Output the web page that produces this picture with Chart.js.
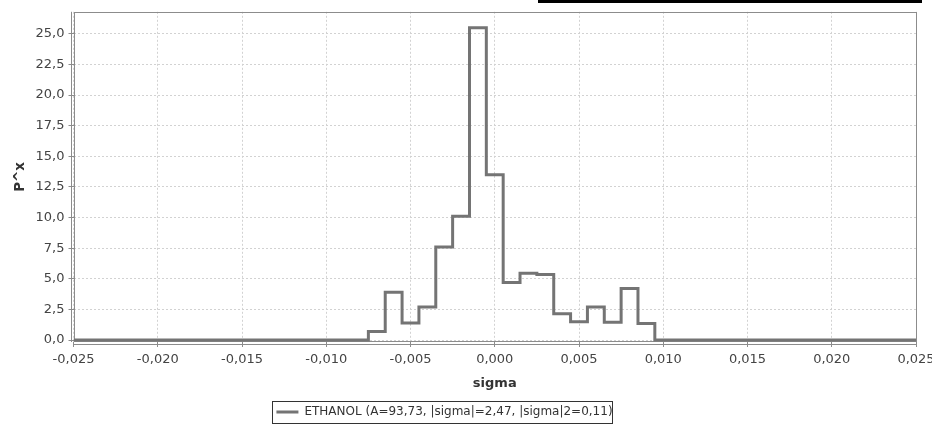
<!DOCTYPE html>
<html>
<head>
<meta charset="utf-8">
<script src="https://cdn.jsdelivr.net/npm/chart.js@4/dist/chart.umd.min.js"></script>
<style>
    html, body { margin: 0; padding: 0; background: #fff; overflow: hidden; }
    #wrap { position: relative; width: 932px; height: 427px; overflow: hidden; }
    #topBar { position: absolute; left: 538px; top: 0; width: 384px; height: 3px; background: #000; }
</style>
</head>
<body>
<div id="wrap">
    <canvas id="sigmaChart" width="940" height="427"></canvas>
    <div id="topBar"></div>
</div>
<script>
// step outline: each x is the left edge of a bin, y is the bin value
const stepX = [-0.025, -0.0075, -0.0065, -0.0055, -0.0045, -0.0035, -0.0025, -0.0015, -0.0005,
               0.0005, 0.0015, 0.0025, 0.0035, 0.0045, 0.0055, 0.0065, 0.0075, 0.0085, 0.0095, 0.025];
const stepY = [0, 0.7, 3.9, 1.4, 2.7, 7.6, 10.1, 25.5, 13.5,
               4.7, 5.45, 5.35, 2.15, 1.5, 2.7, 1.45, 4.2, 1.35, 0, 0];

const xTicks = [-0.025, -0.020, -0.015, -0.010, -0.005, 0, 0.005, 0.010, 0.015, 0.020, 0.025];
const yTicks = [0, 2.5, 5, 7.5, 10, 12.5, 15, 17.5, 20, 22.5, 25];

const seriesLabel = 'ETHANOL (A=93,73, |sigma|=2,47, |sigma|2=0,11)';

const FONT = 'DejaVu Sans';

// plot frame, offset axis lines and the box round the legend
const plotFrame = {
    id: 'plotFrame',
    afterLayout(chart) {
        // legend sits a little left of the plot centre in the original
        const lg = chart.legend;
        lg.left -= 13.5;
        lg.right -= 13.5;
        lg.top += 1;
        lg.bottom += 1;
    },
    beforeDatasetsDraw(chart) {
        const ctx = chart.ctx;
        const a = chart.chartArea;
        ctx.save();
        ctx.strokeStyle = '#8c8c8c';
        ctx.lineWidth = 1;
        ctx.strokeRect(Math.round(a.left) + 0.5, Math.round(a.top) + 0.5,
            Math.round(a.right - a.left) - 1, Math.round(a.bottom - a.top) - 1);
        ctx.beginPath();
        ctx.moveTo(Math.round(a.left) - 2.5, a.top);
        ctx.lineTo(Math.round(a.left) - 2.5, a.bottom);
        ctx.moveTo(a.left, Math.round(a.bottom) + 2.5);
        ctx.lineTo(a.right, Math.round(a.bottom) + 2.5);
        ctx.stroke();
        ctx.restore();
    },
    afterDraw(chart) {
        const box = chart.legend.legendHitBoxes[0];
        if (!box) return;
        const ctx = chart.ctx;
        ctx.save();
        ctx.strokeStyle = '#333';
        ctx.lineWidth = 1;
        ctx.strokeRect(Math.round(box.left) - 3.5, Math.round(box.top) - 4.5,
            Math.round(box.width) + 4, Math.round(box.height) + 10);
        ctx.restore();
    }
};

document.addEventListener('DOMContentLoaded', function() {
    const ctx = document.getElementById('sigmaChart').getContext('2d');

    new Chart(ctx, {
        type: 'line',
        data: {
            datasets: [{
                label: seriesLabel,
                data: stepX.map((x, i) => ({ x: x, y: stepY[i] })),
                stepped: true,
                borderColor: '#747474',
                backgroundColor: '#747474',
                borderWidth: 3,
                pointRadius: 0,
                fill: false
            }]
        },
        options: {
            responsive: false,
            animation: false,
            layout: {
                padding: { top: 11, right: 24, left: 0, bottom: 0 }
            },
            plugins: {
                legend: {
                    position: 'bottom',
                    labels: {
                        usePointStyle: true,
                        pointStyle: 'line',
                        pointStyleWidth: 22,
                        padding: 3,
                        color: '#333',
                        font: { family: FONT, size: 12 }
                    }
                },
                tooltip: { enabled: false }
            },
            scales: {
                x: {
                    type: 'linear',
                    min: -0.025,
                    max: 0.025,
                    afterBuildTicks: s => { s.ticks = xTicks.map(v => ({ value: v })); },
                    afterFit: s => { s.height = 60; },
                    ticks: {
                        color: '#444',
                        font: { family: FONT, size: 13 },
                        padding: 5,
                        maxRotation: 0,
                        autoSkip: false,
                        callback: v => v.toFixed(3).replace('.', ',')
                    },
                    grid: {
                        color: '#d2d2d2',
                        tickColor: '#8c8c8c',
                        tickLength: 5
                    },
                    border: { display: false, dash: [2, 2] },
                    title: {
                        display: true,
                        text: 'sigma',
                        color: '#333',
                        font: { family: FONT, size: 13, weight: 'bold' },
                        padding: { top: 0, bottom: 11 }
                    }
                },
                y: {
                    min: -0.16,
                    max: 26.8,
                    afterBuildTicks: s => { s.ticks = yTicks.map(v => ({ value: v })); },
                    afterFit: s => { s.width = 73.5; },
                    ticks: {
                        color: '#444',
                        font: { family: FONT, size: 13 },
                        padding: 4,
                        callback: v => v.toFixed(1).replace('.', ',')
                    },
                    grid: {
                        color: '#d2d2d2',
                        tickColor: '#8c8c8c',
                        tickLength: 5
                    },
                    border: { display: false, dash: [2, 2] },
                    title: {
                        display: true,
                        text: 'P^x',
                        color: '#333',
                        font: { family: FONT, size: 13.5, weight: 'bold' },
                        padding: { top: 12, bottom: 0 }
                    }
                }
            }
        },
        plugins: [plotFrame]
    });
});
</script>
</body>
</html>
